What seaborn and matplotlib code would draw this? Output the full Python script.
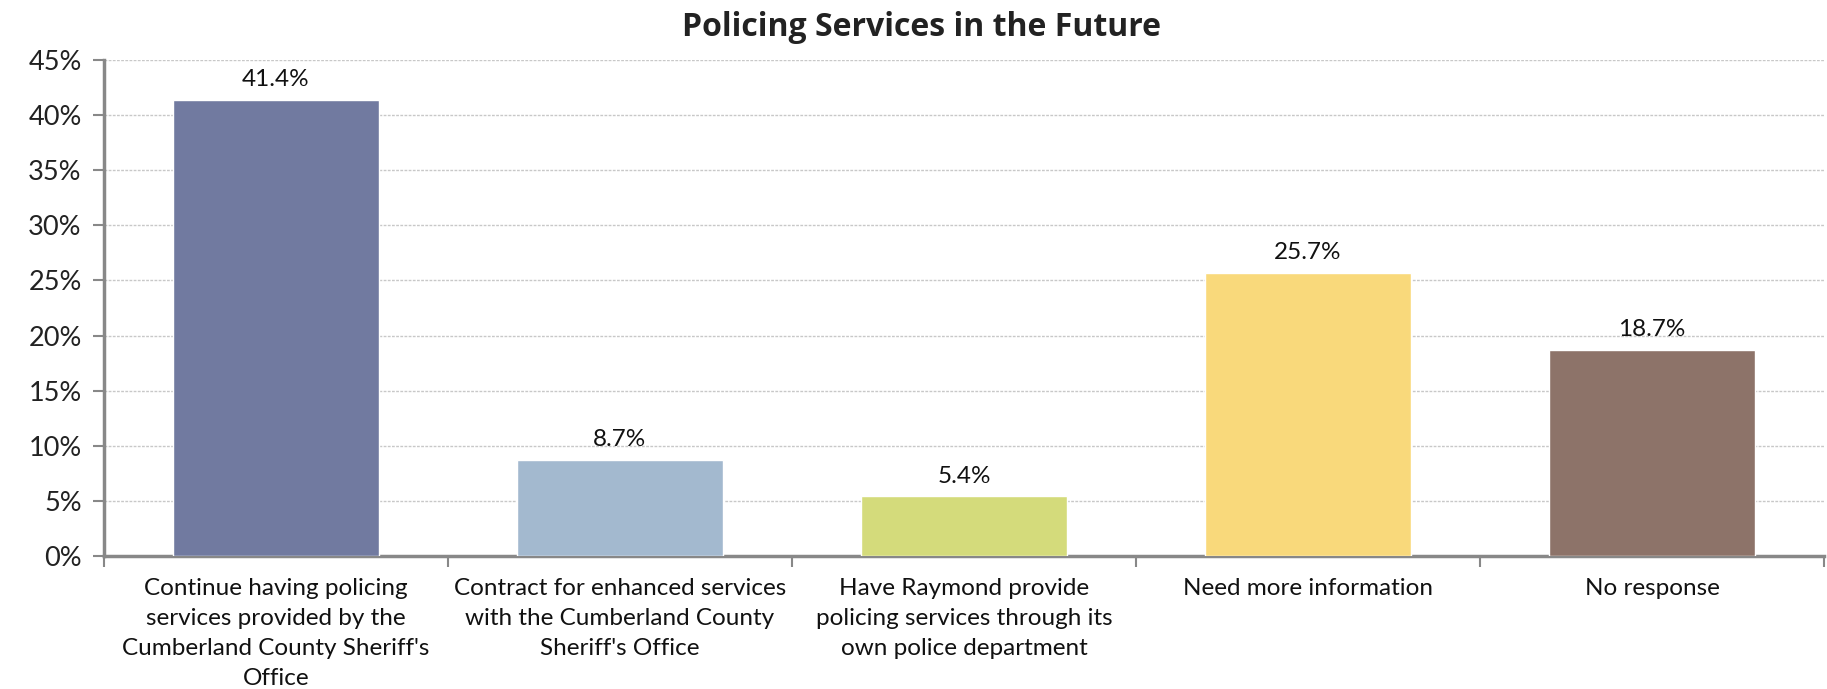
import matplotlib
matplotlib.use("Agg")
import matplotlib.pyplot as plt
import seaborn as sns
import pandas as pd
from matplotlib.ticker import FuncFormatter, FixedLocator

categories = [
    "Continue having policing\nservices provided by the\nCumberland County Sheriff's\nOffice",
    "Contract for enhanced services\nwith the Cumberland County\nSheriff's Office",
    "Have Raymond provide\npolicing services through its\nown police department",
    "Need more information",
    "No response",
]
values = [41.4, 8.7, 5.4, 25.7, 18.7]
colors = ["#717AA0", "#A3B9CF", "#D4DB7B", "#F9D97B", "#8D7369"]
yticks = [0, 5, 10, 15, 20, 25, 30, 35, 40, 45]
title = "Policing Services in the Future"

sns.set_style("white")
plt.rcParams['font.family'] = ['Lato', 'DejaVu Sans']

df = pd.DataFrame({"cat": categories, "val": values})

fig = plt.figure(figsize=(18.27, 6.89), dpi=100)
ax = fig.add_axes([104/1827, 1-556/689, (1824-104)/1827, (556-60)/689])

sns.barplot(data=df, x="cat", y="val", hue="cat", palette=colors, legend=False,
            width=0.6, saturation=1, ax=ax, zorder=3)

ax.set_ylim(0, 45)
ax.set_xlim(-0.5, len(categories) - 0.5)
ax.yaxis.set_major_locator(FixedLocator(yticks))
ax.yaxis.set_major_formatter(FuncFormatter(lambda v, p: f"{v:.0f}%"))
ax.grid(axis="y", color="#c8c8c8", linestyle=(0, (2, 1)), linewidth=1, zorder=0)
ax.set_axisbelow(True)

for c in ax.containers:
    ax.bar_label(c, labels=[f"{v:.1f}%" for v in c.datavalues], padding=7,
                 fontsize=17.5, color="#111111")

for s in ["top", "right"]:
    ax.spines[s].set_visible(False)
for s in ["left", "bottom"]:
    ax.spines[s].set_color("#888888")
    ax.spines[s].set_linewidth(2.5)

ax.set_xlabel("")
ax.set_ylabel("")
ax.tick_params(axis="y", which="major", length=8, width=1.5, color="#888888",
               labelsize=19.5, labelcolor="#222222", pad=8, left=True)
ax.set_xticks(range(len(categories)))
ax.set_xticklabels(categories, fontsize=17.5, color="#111111", linespacing=1.52)
ax.tick_params(axis="x", which="major", length=0, pad=16)
ax.set_xticks([i - 0.5 for i in range(len(categories) + 1)], minor=True)
ax.tick_params(axis="x", which="minor", length=8, width=1.5, color="#888888", bottom=True)

fig.text(922/1827, 1-27/689, title, ha="center", va="center",
         fontsize=23, fontweight="bold", color="#222222", family=["Open Sans", "DejaVu Sans"])

fig.savefig("out.png", dpi=100)
